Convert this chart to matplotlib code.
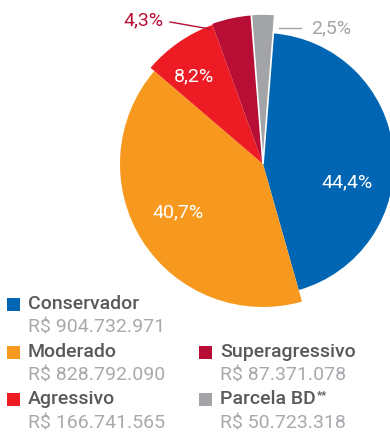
import matplotlib.pyplot as plt

# Data
categories = ["Conservador", "Moderado", "Agressivo", "Superagressivo", "Parcela BD"]
amounts = ["R$ 904.732.971", "R$ 828.792.090", "R$ 166.741.565", "R$ 87.371.078", "R$ 50.723.318"]
shares = [44.4, 40.7, 8.2, 4.3, 2.5]
pct_labels = ["44,4%", "40,7%", "8,2%", "4,3%", "2,5%"]
colors = ["#0066b3", "#f7991f", "#ed1c24", "#b80e35", "#a3a4a8"]

W, H = 390, 432
fig = plt.figure(figsize=(W / 100, H / 100), dpi=100)
ax = fig.add_axes([0, 0, 1, 1])

cx, cy = 263, H - 164
radii = [131, 143, 148, 149, 150]

wedges, _ = ax.pie(shares, colors=colors, center=(cx, cy), radius=150,
                   startangle=85.5, counterclock=False, frame=True,
                   wedgeprops=dict(linewidth=0))
for w, r in zip(wedges, radii):
    w.set_radius(r)
wedges[4].set_edgecolor("white")
wedges[4].set_linewidth(1.2)
ax.set_xlim(0, W)
ax.set_ylim(0, H)
ax.set_aspect("equal")
ax.axis("off")

font = "Roboto"
pfs = 14

# Percent labels
ax.text(347, H - 182, pct_labels[0], color="white", fontsize=pfs, family=font,
        ha="center", va="center")
ax.text(178, H - 212, pct_labels[1], color="white", fontsize=pfs, family=font,
        ha="center", va="center")
ax.text(194, H - 76, pct_labels[2], color="white", fontsize=pfs, family=font,
        ha="center", va="center")
ax.text(143, H - 20, pct_labels[3], color=colors[3], fontsize=pfs, family=font,
        ha="center", va="center")
ax.plot([170, 210], [H - 22, H - 29], color=colors[3], lw=1)
ax.text(331, H - 28, pct_labels[4], color=colors[4], fontsize=pfs, family=font,
        ha="center", va="center")
ax.plot([279, 301], [H - 28, H - 28], color=colors[4], lw=1)

# Legend
positions = [(7, 304), (7, 352), (7, 399), (199, 352), (199, 399)]
for (x, y), name, amt, col in zip(positions, categories, amounts, colors):
    ax.add_patch(plt.Rectangle((x, H - y - 6.5), 13, 13, color=col, lw=0))
    t = ax.text(x + 21, H - y, name, color="#58595b", fontsize=14, family=font,
                fontweight="medium", ha="left", va="center")
    if name == "Parcela BD":
        ax.annotate("**", xy=(1, 1), xycoords=t, xytext=(0.5, -0.5),
                    textcoords="offset points", color="#58595b", fontsize=8,
                    family=font, fontweight="bold", ha="left", va="top")
    ax.text(x + 21, H - y - 24, amt, color="#a7a9ac", fontsize=14, family=font,
            ha="left", va="center")

fig.savefig("out.png", dpi=100)
